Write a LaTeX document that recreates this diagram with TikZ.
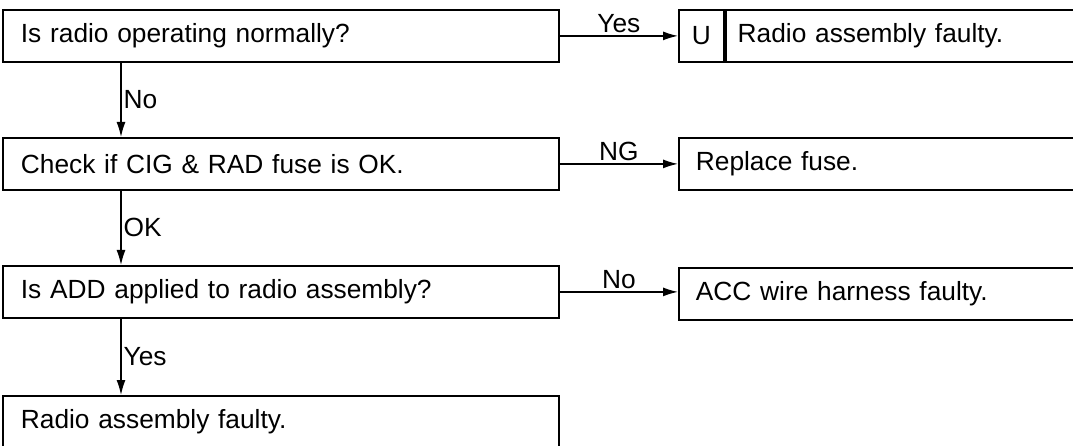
\documentclass[tikz,border=0pt]{standalone}
\usepackage{fontspec}
\setmainfont{Liberation Sans}
\usetikzlibrary{arrows.meta,positioning,calc}
\tikzset{
  >={Latex[length=15pt,width=9pt]},
  % rutor
  qb/.style={draw=black,line width=1.8pt,anchor=north west,minimum height=52,
             text width=520,inner xsep=18,inner ysep=0pt,align=left,
             font=\fontsize{26.3}{30}\selectfont},
  rb/.style={draw=black,line width=1.8pt,anchor=north west,minimum height=52,
             inner ysep=0pt,font=\fontsize{26.3}{30}\selectfont},
  % pilar
  fl/.style={->,draw=black,line width=1.4pt},
  lb/.style={font=\fontsize{26.3}{30}\selectfont,inner sep=2pt},
}
\begin{document}
\begin{tikzpicture}[x=1pt,y=-1pt]
  \useasboundingbox (0,0) rectangle (1073,446);
  \node[qb] (q1) at (2,9)   {Is radio operating normally?};
  \node[qb] (q2) at (2,137) {Check if CIG \& RAD fuse is OK.};
  \node[qb] (q3) at (2,265) {Is ADD applied to radio assembly?};
  \node[qb] (q4) at (2,395) {Radio assembly faulty.};
  \node[rb,minimum width=45] (u) at (678,9) {U};
  \node[rb,anchor=west,text width=380,inner xsep=12,align=left] (r1) at (u.east) {Radio assembly faulty.};
  \node[rb,text width=400,inner xsep=17,align=left] (r2) at (678,137) {Replace fuse.};
  \node[rb,text width=400,inner xsep=17,align=left] (r3) at (678,267) {ACC wire harness faulty.};
  \draw[fl] (q1.east) -- node[lb,above]{Yes} (q1.east -| u.west);
  \draw[fl] (q2.east) -- node[lb,above]{NG} (q2.east -| r2.west);
  \draw[fl] (q3.east) -- node[lb,above]{No} (q3.east -| r3.west);
  \draw[fl] ($(q1.south west)+(119,0)$) -- node[lb,right]{No} ($(q2.north west)+(119,0)$);
  \draw[fl] ($(q2.south west)+(119,0)$) -- node[lb,right]{OK} ($(q3.north west)+(119,0)$);
  \draw[fl] ($(q3.south west)+(119,0)$) -- node[lb,right]{Yes} ($(q4.north west)+(119,0)$);
\end{tikzpicture}
\end{document}
